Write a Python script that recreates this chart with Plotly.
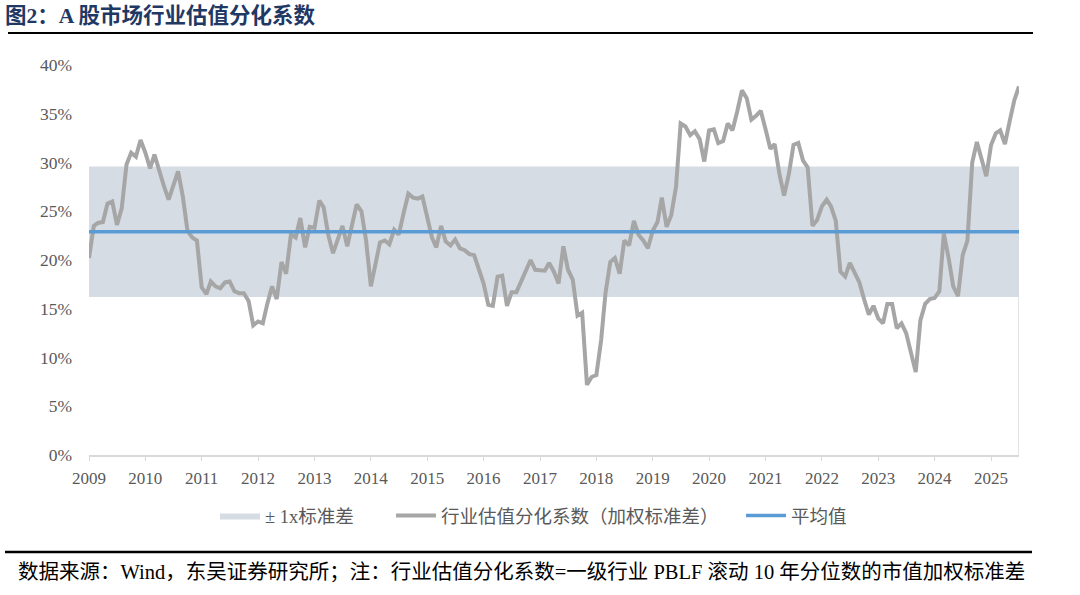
import pandas as pd
import plotly.graph_objects as go

# ---- data (percent), monthly from Jan 2009 ----
start_month = "2009-01-01"
dispersion = [
    20.2, 23.5, 23.8, 23.9, 25.8, 26.0, 23.6, 25.3, 29.8, 31.0, 30.6, 32.3,
    31.0, 29.4, 30.8, 29.0, 27.6, 26.2, 27.5, 29.1, 26.5, 23.0, 22.3, 22.0,
    17.2, 16.5, 17.8, 17.3, 17.1, 17.7, 17.8, 16.8, 16.6, 16.6, 15.8, 13.3,
    13.7, 13.5, 15.5, 17.3, 16.0, 19.8, 18.6, 22.6, 22.3, 24.3, 21.3, 23.4,
    23.3, 26.1, 25.4, 22.5, 20.7, 22.0, 23.5, 21.4, 23.8, 25.7, 25.0, 22.0,
    17.3, 19.8, 21.8, 22.0, 21.6, 23.1, 22.6, 24.8, 26.8, 26.4, 26.3, 26.5,
    24.4, 22.3, 21.3, 23.5, 21.9, 21.5, 22.1, 21.2, 21.0, 20.6, 20.5, 19.1,
    17.6, 15.4, 15.3, 18.3, 18.4, 15.3, 16.7, 16.7, 17.8, 19.1, 20.0, 19.0,
    19.0, 18.9, 19.7, 18.8, 17.6, 21.4, 19.0, 18.0, 14.3, 14.6, 7.2, 8.0,
    8.2, 11.8, 16.6, 19.8, 20.2, 18.6, 22.0, 21.5, 24.0, 22.6, 22.0, 21.2,
    23.0, 23.9, 26.4, 23.4, 24.6, 27.5, 34.0, 33.7, 32.8, 33.2, 32.4, 30.1,
    33.3, 33.4, 32.0, 32.2, 34.0, 33.3, 35.2, 37.4, 36.6, 34.4, 34.8, 35.3,
    33.4, 31.4, 31.9, 28.8, 26.6, 28.8, 31.8, 32.0, 30.2, 29.5, 23.5, 24.1,
    25.5, 26.2, 25.5, 24.0, 18.8, 18.3, 19.7, 18.8, 17.7, 16.0, 14.4, 15.3,
    14.0, 13.5, 15.5, 15.5, 13.0, 13.5, 12.5, 10.5, 8.5, 13.8, 15.5, 16.0,
    16.1, 16.8, 22.7, 20.2, 17.3, 16.3, 20.5, 22.0, 30.0, 32.1, 30.4, 28.6,
    31.8, 33.0, 33.3, 31.9, 34.2, 36.4, 37.8,
]
mean_value = 22.9
band_low_value = 16.2
band_high_value = 29.6

series_names = ["± 1x标准差", "行业估值分化系数（加权标准差）", "平均值"]
title_text = "图2：A 股市场行业估值分化系数"
source_text = "数据来源：Wind，东吴证券研究所；注：行业估值分化系数=一级行业 PBLF 滚动 10 年分位数的市值加权标准差"

# ---- build ----
dates = pd.date_range(start_month, periods=len(dispersion), freq="MS")
vals = [v / 100 for v in dispersion]
lo, hi, mu = band_low_value / 100, band_high_value / 100, mean_value / 100

W, H = 1080, 595
L, R, T, B = 89, 1019, 65, 455


def px(xp):
    return (xp - L) / (R - L)


def py(yp):
    return (B - yp) / (B - T)


FONT = "Liberation Serif, Noto Sans CJK SC, serif"
GREY_TXT = "#595959"

fig = go.Figure()
fig.add_trace(go.Scatter(
    x=[dates[0], dates[-1], dates[-1], dates[0], dates[0]],
    y=[lo, lo, hi, hi, lo],
    fill="toself", fillcolor="#D6DCE4", mode="lines",
    line=dict(width=0, color="#D6DCE4"),
    name=series_names[0], legend="legend", hoverinfo="skip",
))
fig.add_trace(go.Scatter(
    x=dates, y=vals, mode="lines",
    line=dict(color="#A6A6A6", width=4),
    name=series_names[1], legend="legend2",
))
fig.add_trace(go.Scatter(
    x=[dates[0], dates[-1]], y=[mu, mu], mode="lines",
    line=dict(color="#5B9BD5", width=3.5),
    name=series_names[2], legend="legend3",
))

leg_common = dict(orientation="h", yanchor="middle", xanchor="left",
                  bgcolor="rgba(0,0,0,0)", borderwidth=0,
                  font=dict(family=FONT, size=18.5, color=GREY_TXT),
                  itemwidth=40)
fig.update_layout(
    width=W, height=H,
    margin=dict(l=L, r=W - R, t=T, b=H - B),
    paper_bgcolor="white", plot_bgcolor="white",
    title=dict(text="<b>" + title_text + "</b>", x=5 / W, xref="container",
               y=1 - 15 / H, yref="container", xanchor="left", yanchor="middle",
               font=dict(family=FONT, size=21.5, color="#1F3864")),
    legend=dict(x=px(215), y=py(516), **leg_common),
    legend2=dict(x=px(391), y=py(516), **leg_common),
    legend3=dict(x=px(741), y=py(516), **leg_common),
    xaxis=dict(type="date", range=[dates[0], dates[-1]],
               tick0=start_month, dtick="M12", tickformat="%Y",
               showgrid=False, showline=True, linecolor="#D9D9D9", linewidth=1.5,
               ticks="outside", ticklen=4, tickcolor="#D9D9D9",
               ticklabelstandoff=3,
               tickfont=dict(family=FONT, size=17, color=GREY_TXT)),
    yaxis=dict(range=[0, 0.40], dtick=0.05, tickformat=".0%",
               showgrid=False, showline=False, zeroline=False,
               ticks="", ticklabelstandoff=16,
               tickfont=dict(family=FONT, size=17.5, color=GREY_TXT)),
    showlegend=True,
)

# vertical edge at right end below the band
fig.add_shape(type="line", xref="x", yref="y", x0=dates[-1], x1=dates[-1],
              y0=0, y1=lo, line=dict(color="#D9D9D9", width=1.5))
# header and footer rules
fig.add_shape(type="line", xref="paper", yref="paper", x0=px(8), x1=px(1033),
              y0=py(33), y1=py(33), line=dict(color="black", width=2))
fig.add_shape(type="line", xref="paper", yref="paper", x0=px(5), x1=px(1032),
              y0=py(552), y1=py(552), line=dict(color="black", width=2.5))
fig.add_annotation(text=source_text, xref="paper", yref="paper",
                   x=px(16), y=py(572), xanchor="left", yanchor="middle",
                   showarrow=False,
                   font=dict(family=FONT, size=20.5, color="black"))

fig.write_html("out.html")
